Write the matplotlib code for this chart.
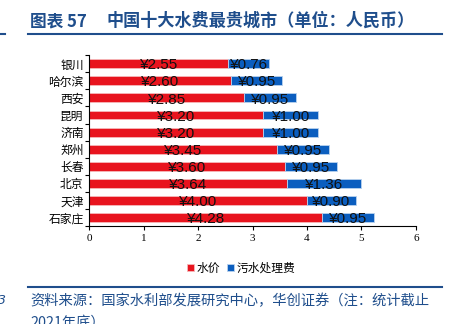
import matplotlib
matplotlib.use("Agg")
import matplotlib.pyplot as plt
from matplotlib.lines import Line2D

plt.rcParams['font.family'] = ['Noto Sans CJK SC', 'DejaVu Sans']

cities = ["银川", "哈尔滨", "西安", "昆明", "济南", "郑州", "长春", "北京", "天津", "石家庄"]
water_price = [2.55, 2.60, 2.85, 3.20, 3.20, 3.45, 3.60, 3.64, 4.00, 4.28]
sewage_fee = [0.76, 0.95, 0.95, 1.00, 1.00, 0.95, 0.95, 1.36, 0.90, 0.95]
xticks = [0, 1, 2, 3, 4, 5, 6]
series_names = ["水价", "污水处理费"]

RED = "#E8141E"
BLUE = "#0B5EBF"
NAVY = "#1F4E8C"

fig = plt.figure(figsize=(4.55, 3.24), dpi=100)
ax = fig.add_axes([0.196, 0.302, 0.718, 0.528])

ypos = list(range(len(cities)))[::-1]
b1 = ax.barh(ypos, water_price, height=0.52, color=RED, edgecolor="#F6B8BA", linewidth=0.6, label=series_names[0])
b2 = ax.barh(ypos, sewage_fee, left=water_price, height=0.52, color=BLUE, edgecolor="#B9D2EE", linewidth=0.6, label=series_names[1])

lab_font = ["Liberation Sans", "DejaVu Sans"]
for y, w, s in zip(ypos, water_price, sewage_fee):
    ax.text(w / 2, y - 0.1, f"¥{w:.2f}", ha="center", va="center", fontsize=11,
            family=lab_font, color="#111111")
    ax.text(w + s / 2, y - 0.1, f"¥{s:.2f}", ha="center", va="center", fontsize=11,
            family=lab_font, color="#111111")

ax.set_xlim(0, 6)
ax.set_ylim(-0.5, len(cities) - 0.5)
ax.set_xticks(xticks)
ax.set_xticklabels([str(t) for t in xticks], family=["Liberation Serif"], fontsize=8)
ax.set_yticks(ypos)
ax.set_yticklabels(cities, fontsize=8.5)
ax.set_yticks([i - 0.5 for i in range(len(cities) + 1)], minor=True)
ax.tick_params(axis="y", which="major", length=0, pad=4)
ax.tick_params(axis="y", which="minor", length=3, direction="out", width=0.8)
ax.tick_params(axis="x", length=3, width=0.8, pad=3)
for sp in ["top", "right"]:
    ax.spines[sp].set_visible(False)
ax.spines["left"].set_linewidth(0.8)
ax.spines["bottom"].set_linewidth(0.8)

leg = fig.legend(handles=[b1, b2], loc="center", bbox_to_anchor=(0.53, 0.172), ncol=2,
                 frameon=False, fontsize=8.5, handlelength=0.6, handleheight=0.6,
                 handletextpad=0.2, columnspacing=0.6)

fig.text(0.066, 0.935, "图表 57", fontsize=12, fontweight="bold", color=NAVY, va="center", ha="left")
fig.text(0.233, 0.935, "中国十大水费最贵城市（单位：人民币）", fontsize=12.3,
         fontweight="bold", color=NAVY, va="center", ha="left")
fig.add_artist(Line2D([0.062, 0.972], [0.895, 0.895], color=NAVY, linewidth=1.5, transform=fig.transFigure))
fig.add_artist(Line2D([0.0, 0.01], [0.895, 0.895], color=NAVY, linewidth=1.5, transform=fig.transFigure))
fig.add_artist(Line2D([0.062, 0.972], [0.115, 0.115], color=NAVY, linewidth=1.5, transform=fig.transFigure))

fig.text(0.066, 0.072, "资料来源：国家水利部发展研究中心，华创证券（注：统计截止", fontsize=10.3,
         color=NAVY, va="center", ha="left", style="italic")
fig.text(0.066, 0.005, "2021年底）", fontsize=10.3, color=NAVY, va="center", ha="left", style="italic")
fig.text(-0.004, 0.072, "3", fontsize=9, color=NAVY, va="center", ha="left", style="italic",
         family=["DejaVu Sans"])

fig.savefig("out.png", dpi=100)
